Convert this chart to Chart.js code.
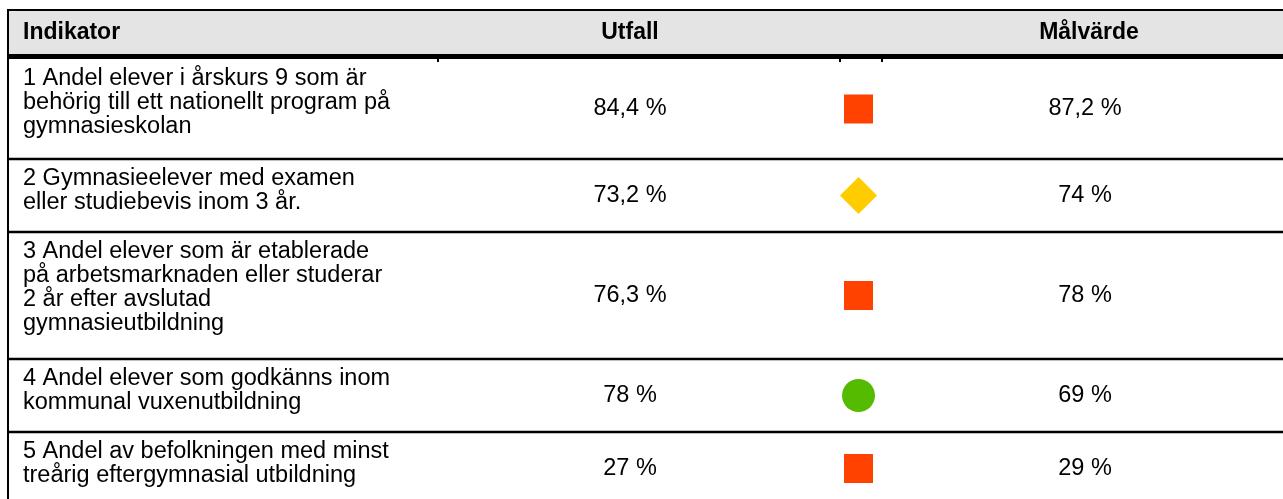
<!DOCTYPE html>
<html>
<head>
<meta charset="utf-8">
<script src="https://cdn.jsdelivr.net/npm/chart.js@4.4.0/dist/chart.umd.min.js"></script>
<style>
  html, body { margin: 0; padding: 0; background: #fff; }
  canvas { display: block; }
</style>
</head>
<body>
<canvas id="tableChart" width="1283" height="499"></canvas>
<script>
// table content
var headers = ['Indikator', 'Utfall', 'Målvärde'];
var indicators = [
  ['1 Andel elever i årskurs 9 som är', 'behörig till ett nationellt program på', 'gymnasieskolan'],
  ['2 Gymnasieelever med examen', 'eller studiebevis inom 3 år.'],
  ['3 Andel elever som är etablerade', 'på arbetsmarknaden eller studerar', '2 år efter avslutad', 'gymnasieutbildning'],
  ['4 Andel elever som godkänns inom', 'kommunal vuxenutbildning'],
  ['5 Andel av befolkningen med minst', 'treårig eftergymnasial utbildning']
];
var utfall = ['84,4 %', '73,2 %', '76,3 %', '78 %', '27 %'];
var malvarde = ['87,2 %', '74 %', '78 %', '69 %', '29 %'];
var statuses = ['red', 'yellow', 'red', 'green', 'red'];

// layout (px units on the hidden linear scales)
var W = 1283, H = 499;
var rowStep = 27, rowPad = 19, bodyTop = 59;
var lineH = 24, firstLine = 20;
var colUtfall = 630, colMarker = 858.5, colMal = 1085, textLeft = 23;
var font = '"Liberation Sans", Arial, sans-serif';

var statusStyle = {
  red:    { style: 'rect',    radius: 20.5, color: '#ff4200' },
  yellow: { style: 'rectRot', radius: 18.5, color: '#ffcc00' },
  green:  { style: 'circle',  radius: 16.5, color: '#55bb00' }
};

var rowTop = [], rowHeight = [];
var t = bodyTop;
indicators.forEach(function (lines) {
  rowTop.push(t);
  rowHeight.push(lines.length * rowStep + rowPad);
  t += lines.length * rowStep + rowPad;
});
var rowCenter = rowTop.map(function (top, i) { return top + rowHeight[i] / 2; });

var tablePlugin = {
  id: 'table',
  beforeDatasetsDraw: function (chart) {
    var ctx = chart.ctx;
    var sx = chart.scales.x, sy = chart.scales.y;
    var px = function (v) { return sx.getPixelForValue(v); };
    var py = function (v) { return sy.getPixelForValue(v); };

    ctx.save();
    ctx.fillStyle = '#ffffff';
    ctx.fillRect(0, 0, W, H);

    // header band
    ctx.fillStyle = '#e4e4e4';
    ctx.fillRect(px(9), py(11), px(W) - px(9), py(54) - py(11));
    ctx.fillStyle = '#000';
    ctx.fillRect(px(7), py(9), px(W) - px(7), 2);
    ctx.fillRect(px(7), py(54), px(W) - px(7), 5);
    ctx.fillRect(px(7), py(9), 2, py(H) - py(9));
    // little column ticks under the header rule
    [437, 839, 881].forEach(function (c) { ctx.fillRect(px(c), py(59), 2, 3); });

    // row separators
    rowTop.slice(1).forEach(function (top) {
      ctx.fillRect(px(7), py(top) - 1.25, px(W) - px(7), 2.5);
    });

    ctx.fillStyle = '#000';
    ctx.textBaseline = 'middle';
    ctx.font = 'bold 23px ' + font;
    ctx.textAlign = 'left';
    ctx.fillText(headers[0], px(textLeft), py(33));
    ctx.textAlign = 'center';
    ctx.fillText(headers[1], px(colUtfall), py(33));
    ctx.fillText(headers[2], px(1089), py(33));

    ctx.font = '23.5px ' + font;
    indicators.forEach(function (lines, i) {
      ctx.textAlign = 'left';
      lines.forEach(function (ln, j) {
        ctx.fillText(ln, px(textLeft), py(rowTop[i] + firstLine + lineH * j));
      });
      ctx.textAlign = 'center';
      ctx.fillText(utfall[i], px(colUtfall), py(rowCenter[i]));
      ctx.fillText(malvarde[i], px(colMal), py(rowCenter[i]));
    });
    ctx.restore();
  }
};

new Chart(document.getElementById('tableChart').getContext('2d'), {
  type: 'scatter',
  data: {
    datasets: [{
      label: 'Status',
      data: rowCenter.map(function (c) { return { x: colMarker, y: c }; }),
      pointStyle: statuses.map(function (s) { return statusStyle[s].style; }),
      pointRadius: statuses.map(function (s) { return statusStyle[s].radius; }),
      pointHoverRadius: statuses.map(function (s) { return statusStyle[s].radius; }),
      backgroundColor: statuses.map(function (s) { return statusStyle[s].color; }),
      borderWidth: 0,
      clip: false
    }]
  },
  options: {
    responsive: false,
    animation: false,
    layout: { padding: 0, autoPadding: false },
    plugins: { legend: { display: false }, tooltip: { enabled: false } },
    scales: {
      x: { type: 'linear', min: 0, max: W, display: false },
      y: { type: 'linear', min: 0, max: H, reverse: true, display: false }
    }
  },
  plugins: [tablePlugin]
});
</script>
</body>
</html>
